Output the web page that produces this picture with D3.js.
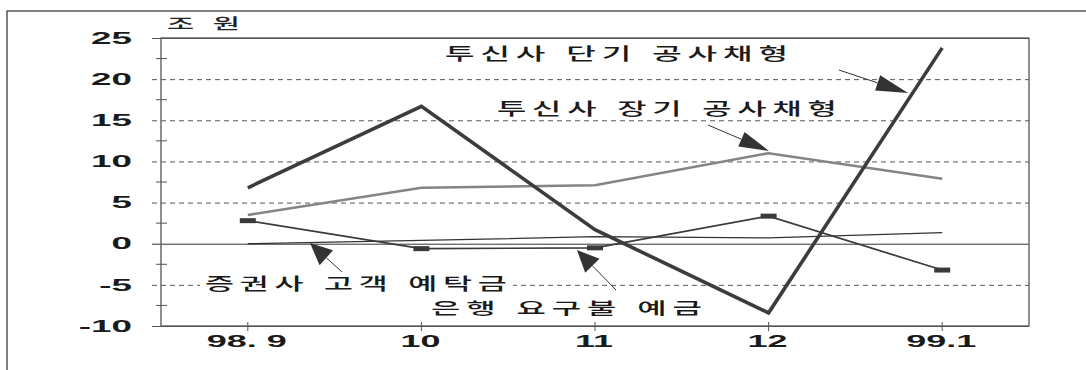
<!DOCTYPE html>
<html>
<head>
<meta charset="utf-8">
<script src="https://cdn.jsdelivr.net/npm/d3@7"></script>
<style>
  html, body { margin: 0; padding: 0; background: #fff; }
  svg { display: block; }
</style>
</head>
<body>
<div id="chart"></div>
<script>
// Monthly flows, in trillion won
const categories = ["98. 9", "10", "11", "12", "99.1"];
const shortTermBond = [6.8, 16.7, 1.7, -8.4, 23.8];   // 투신사 단기 공사채형
const longTermBond  = [3.5, 6.8, 7.1, 11.0, 7.9];     // 투신사 장기 공사채형
const demandDeposit = [2.8, -0.6, -0.5, 3.35, -3.2];  // 은행 요구불 예금
const brokerDeposit = [0.0, 0.4, 0.85, 0.7, 1.35];    // 증권사 고객 예탁금
const yMajorTicks = [25, 20, 15, 10, 5, 0, -5, -10];
const yMinorTicks = [22.5, 17.5, 12.5, 7.5, 2.5, -2.5, -7.5];
const unitLabel = "조 원";

const W = 1086, H = 370;
const plot = { left: 161, right: 1029, top: 38, bottom: 326 };
const KR = "'Noto Sans CJK KR', 'Noto Sans', sans-serif";
const NUM = "'Liberation Sans', Arial, sans-serif";

const svg = d3.select("#chart").append("svg")
  .attr("width", W).attr("height", H);

const x = d3.scalePoint(categories, [plot.left, plot.right]).padding(0.5);
const y = d3.scaleLinear([-10, 25], [plot.bottom, plot.top]);

// outer frame (left and top edges only)
svg.append("path")
  .attr("d", `M7,${H} V11 H${W}`)
  .attr("fill", "none").attr("stroke", "#555").attr("stroke-width", 1.5);

// horizontal grid: dashed at major ticks, solid at zero
const grid = svg.append("g")
  .attr("transform", `translate(${plot.left},0)`)
  .call(d3.axisLeft(y).tickValues(yMajorTicks)
    .tickSize(-(plot.right - plot.left)).tickFormat(""));
grid.select(".domain").remove();
grid.selectAll(".tick line")
  .attr("x1", -9)
  .attr("stroke", d => (d === 0 ? "#333" : "#555"))
  .attr("stroke-width", 1)
  .attr("stroke-dasharray", d => (d === 0 || d === 25 || d === -10) ? null : "5,4");

// minor ticks crossing the y axis
svg.append("g").selectAll("line").data(yMinorTicks).join("line")
  .attr("x1", plot.left - 5).attr("x2", plot.left + 6)
  .attr("y1", d => y(d)).attr("y2", d => y(d))
  .attr("stroke", "#555").attr("stroke-width", 1);

// y tick labels (wide, squat numerals)
svg.append("g").selectAll("text").data(yMajorTicks).join("text")
  .attr("transform", d => `translate(132,${y(d)}) scale(2.3,1)`)
  .attr("text-anchor", "end").attr("dy", "0.36em")
  .attr("font-family", NUM).attr("font-size", 16).attr("font-weight", 700)
  .attr("fill", "#1a1a1a")
  .text(d => String(d));

// x ticks and labels
svg.append("g").selectAll("line").data(categories).join("line")
  .attr("x1", d => x(d)).attr("x2", d => x(d))
  .attr("y1", plot.bottom - 4).attr("y2", plot.bottom + 5)
  .attr("stroke", "#555").attr("stroke-width", 1);
svg.append("g").selectAll("text").data(categories).join("text")
  .attr("transform", d => `translate(${x(d) - 1},347) scale(2.25,1)`)
  .attr("text-anchor", "middle")
  .attr("font-family", NUM).attr("font-size", 16).attr("font-weight", 700)
  .attr("fill", "#1a1a1a")
  .text(d => d);

// stretched Korean label with white backing
function wideLabel(text, x0, x1, yc, pad) {
  const g = svg.append("g");
  g.append("rect")
    .attr("x", x0 - pad[0]).attr("y", yc - 11)
    .attr("width", x1 - x0 + pad[0] + pad[1]).attr("height", 22)
    .attr("fill", "#fff");
  const t = g.append("text")
    .attr("font-family", KR).attr("font-size", 16.5).attr("font-weight", 500)
    .attr("fill", "#1a1a1a")
    .attr("dominant-baseline", "central")
    .style("letter-spacing", "3px").style("word-spacing", "1px")
    .text(text);
  const w = t.node().getBBox().width - 3;
  t.attr("transform", `translate(${x0},${yc}) scale(${(x1 - x0) / w},1)`);
}

// plot frame
svg.append("rect")
  .attr("x", plot.left).attr("y", plot.top)
  .attr("width", plot.right - plot.left).attr("height", plot.bottom - plot.top)
  .attr("fill", "none").attr("stroke", "#555").attr("stroke-width", 1.3);

// annotation labels
wideLabel("투신사 단기 공사채형", 445, 788, 53, [5, 6]);
wideLabel("투신사 장기 공사채형", 497, 837, 108, [6, 18]);
wideLabel("증권사 고객 예탁금", 205, 507, 283, [5, 6]);
wideLabel("은행 요구불 예금", 431, 702, 307, [5, 6]);

// unit label
(function () {
  const t = svg.append("text")
    .attr("font-family", KR).attr("font-size", 15).attr("font-weight", 500)
    .attr("fill", "#222").attr("dominant-baseline", "central")
    .style("word-spacing", "6px")
    .text(unitLabel);
  const w = t.node().getBBox().width;
  t.attr("transform", `translate(167,23) scale(${73 / w},1)`);
})();

// series
const line = d3.line().x((d, i) => x(categories[i])).y(d => y(d));

svg.append("path").datum(brokerDeposit)
  .attr("d", line).attr("fill", "none")
  .attr("stroke", "#333").attr("stroke-width", 1.2);

svg.append("path").datum(demandDeposit)
  .attr("d", line).attr("fill", "none")
  .attr("stroke", "#3a3a3a").attr("stroke-width", 1.7);
svg.append("g").selectAll("rect").data(demandDeposit).join("rect")
  .attr("x", (d, i) => x(categories[i]) - 8).attr("y", d => y(d) - 2.5)
  .attr("width", 16).attr("height", 5)
  .attr("fill", "#3a3a3a");

svg.append("path").datum(longTermBond)
  .attr("d", line).attr("fill", "none")
  .attr("stroke", "#848484").attr("stroke-width", 2.6);

svg.append("path").datum(shortTermBond)
  .attr("d", line).attr("fill", "none")
  .attr("stroke", "#3c3c3c").attr("stroke-width", 3.6)
  .attr("stroke-linejoin", "miter").attr("stroke-miterlimit", 6);

// pointer arrows from labels to their lines
function arrow(tail, tip, len, half) {
  const dx = tip[0] - tail[0], dy = tip[1] - tail[1];
  const L = Math.hypot(dx, dy), ux = dx / L, uy = dy / L;
  const bx = tip[0] - ux * len, by = tip[1] - uy * len;
  svg.append("line")
    .attr("x1", tail[0]).attr("y1", tail[1]).attr("x2", bx).attr("y2", by)
    .attr("stroke", "#333").attr("stroke-width", 1);
  svg.append("path")
    .attr("d", `M${tip[0]},${tip[1]} L${bx - uy * half},${by + ux * half} L${bx + uy * half},${by - ux * half} Z`)
    .attr("fill", "#333");
}
arrow([839, 70], [908, 93], 32, 8);
arrow([708, 125], [769, 151], 30, 8);
arrow([342, 272], [310, 243], 22, 10);
arrow([616, 290], [577, 250], 22, 10);
</script>
</body>
</html>
